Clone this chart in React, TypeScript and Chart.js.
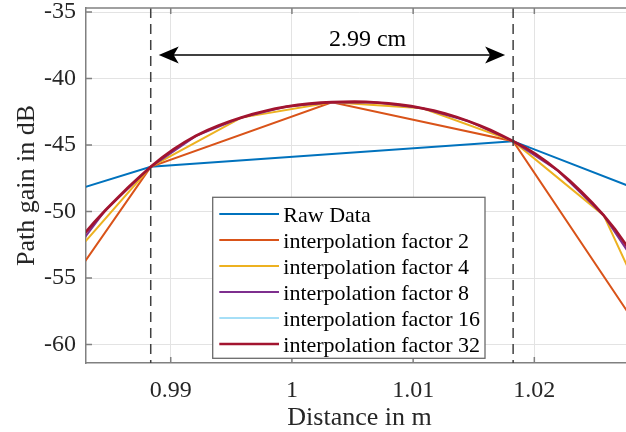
import { useEffect, useRef } from "react";
import { Chart, registerables } from "chart.js";

Chart.register(...registerables);

// Raw samples are 2.99 cm apart; sample 0 sits on the left dashed marker.
const RAW_SPACING = 0.0299;
const SAMPLE_ZERO = 0.98835;

const seriesLabels = [
  "Raw Data",
  "interpolation factor 2",
  "interpolation factor 4",
  "interpolation factor 8",
  "interpolation factor 16",
  "interpolation factor 32",
];
const seriesFactors = [1, 2, 4, 8, 16, 32];
// first sample of each series, in raw-sample spacings from sample 0
const seriesStarts = [-1, -0.5, -0.25, -0.25, -0.25, -0.25];
const seriesColors = ["#0072BD", "#D95319", "#EDB120", "#7E2F8E", "#4DBEEE", "#A2142F"];
const seriesWidths = [2, 2, 2, 2, 1, 2.8];

// path gain in dB
const rawGain = [-55.01, -46.64, -44.71, -55.28];
const factor2Gain = [-66.24, -46.64, -41.78, -44.71, -65.02];
const factor4Gain = [-54.41, -46.64, -42.94, -41.78, -42.24, -44.71, -50.29, -65.02];
const factor8Gain = [
  -54.41, -49.9, -46.64, -44.31, -42.94, -42.11, -41.78, -41.81, -42.24, -43.19, -44.71,
  -46.95, -50.29, -55.37,
];
const factor16Gain = [
  -54.41, -51.81, -49.9, -48.2, -46.64, -45.32, -44.31, -43.53, -42.94, -42.46, -42.11,
  -41.89, -41.78, -41.74, -41.81, -41.96, -42.24, -42.64, -43.19, -43.88, -44.71, -45.68,
  -46.95, -48.49, -50.29, -52.53, -55.37,
];
const factor32Gain = [
  -54.41, -52.95, -51.81, -50.82, -49.9, -49.03, -48.2, -47.4, -46.64, -45.94, -45.32,
  -44.78, -44.31, -43.89, -43.53, -43.21, -42.94, -42.68, -42.46, -42.27, -42.11, -41.99,
  -41.89, -41.82, -41.78, -41.75, -41.74, -41.76, -41.81, -41.87, -41.96, -42.08, -42.24,
  -42.42, -42.64, -42.89, -43.19, -43.51, -43.88, -44.28, -44.71, -45.16, -45.68, -46.29,
  -46.95, -47.69, -48.49, -49.35, -50.29, -51.33, -52.53, -53.86, -55.37,
];
const seriesGains = [rawGain, factor2Gain, factor4Gain, factor8Gain, factor16Gain, factor32Gain];

const xTicks = [0.99, 1, 1.01, 1.02];
const xTickLabels = ["0.99", "1", "1.01", "1.02"];
const yTicks = [-60, -55, -50, -45, -40, -35];
const yTickLabels = ["-60", "-55", "-50", "-45", "-40", "-35"];

const X_MIN = 0.98301;
const X_MAX = 1.02814;
const Y_MIN = -61.384;
const Y_MAX = -34.699;

// marker annotation
const markerLeft = SAMPLE_ZERO;
const markerRight = SAMPLE_ZERO + RAW_SPACING;
const markerText = "2.99 cm";
const markerTextX = 1.00624;
const markerTextY = -37.56;
const markerArrowY = -38.235;

const FONT = '"Liberation Serif", "Times New Roman", serif';
const TEXT = "#262626";
const AXIS = "#808080";

const annotations = {
  id: "annotations",
  afterDatasetsDraw(chart: any) {
    const { ctx, chartArea: a, scales } = chart;
    const x = scales.x;
    const y = scales.y;
    ctx.save();
    ctx.beginPath();
    ctx.rect(a.left, a.top, a.right - a.left, a.bottom - a.top);
    ctx.clip();

    // dashed sample markers
    ctx.strokeStyle = "#404040";
    ctx.lineWidth = 1.5;
    ctx.setLineDash([10, 6]);
    for (const v of [markerLeft, markerRight]) {
      const px = x.getPixelForValue(v);
      ctx.beginPath();
      ctx.moveTo(px, a.top);
      ctx.lineTo(px, a.bottom);
      ctx.stroke();
    }
    ctx.setLineDash([]);

    // double arrow between the markers
    const ay = y.getPixelForValue(markerArrowY);
    const l = x.getPixelForValue(markerLeft) + 8;
    const r = x.getPixelForValue(markerRight) - 8;
    ctx.strokeStyle = "#000";
    ctx.fillStyle = "#000";
    ctx.lineWidth = 1.5;
    ctx.beginPath();
    ctx.moveTo(l + 10, ay);
    ctx.lineTo(r - 10, ay);
    ctx.stroke();
    const head = (tip: number, dir: number) => {
      ctx.beginPath();
      ctx.moveTo(tip, ay);
      ctx.lineTo(tip + dir * 20, ay - 8.5);
      ctx.lineTo(tip + dir * 15, ay);
      ctx.lineTo(tip + dir * 20, ay + 8.5);
      ctx.closePath();
      ctx.fill();
    };
    head(l, 1);
    head(r, -1);

    ctx.font = `24px ${FONT}`;
    ctx.fillStyle = "#000";
    ctx.textAlign = "center";
    ctx.textBaseline = "alphabetic";
    ctx.fillText(markerText, x.getPixelForValue(markerTextX), y.getPixelForValue(markerTextY));
    ctx.restore();
  },
  afterDraw(chart: any) {
    const { ctx, chartArea: a, scales } = chart;
    const x = scales.x;
    const y = scales.y;
    ctx.save();
    ctx.strokeStyle = AXIS;
    ctx.lineWidth = 1.5;
    // top box edge
    ctx.beginPath();
    ctx.moveTo(a.left, a.top);
    ctx.lineTo(a.right, a.top);
    ctx.stroke();
    // inward tick marks
    ctx.beginPath();
    for (const v of yTicks) {
      const py = y.getPixelForValue(v);
      ctx.moveTo(a.left, py);
      ctx.lineTo(a.left + 6, py);
    }
    for (const v of xTicks) {
      const px = x.getPixelForValue(v);
      ctx.moveTo(px, a.bottom);
      ctx.lineTo(px, a.bottom - 6);
      ctx.moveTo(px, a.top);
      ctx.lineTo(px, a.top + 6);
    }
    ctx.stroke();

    // legend box
    const bx = a.left + 126.7;
    const by = a.top + 189.3;
    const bw = 272.3;
    const bh = 161;
    ctx.fillStyle = "#fff";
    ctx.fillRect(bx, by, bw, bh);
    ctx.strokeStyle = "#6a6a6a";
    ctx.lineWidth = 1.3;
    ctx.strokeRect(bx, by, bw, bh);
    ctx.font = `22px ${FONT}`;
    ctx.textAlign = "left";
    ctx.textBaseline = "alphabetic";
    chart.data.datasets.forEach((ds: any, i: number) => {
      const base = by + 24.4 + i * 26;
      const ly = base - 7.7;
      ctx.strokeStyle = ds.borderColor;
      ctx.lineWidth = Math.min(ds.borderWidth, 2.4);
      ctx.beginPath();
      ctx.moveTo(bx + 6.6, ly);
      ctx.lineTo(bx + 66.3, ly);
      ctx.stroke();
      ctx.fillStyle = "#000";
      ctx.fillText(ds.label, bx + 70.6, base);
    });
    ctx.restore();
  },
};

export default function App() {
  const canvasRef = useRef<HTMLCanvasElement | null>(null);

  useEffect(() => {
    const canvas = canvasRef.current;
    if (!canvas) return;
    const datasets = seriesLabels.map((label, s) => ({
      label,
      data: seriesGains[s].map((g, i) => ({
        x: SAMPLE_ZERO + (seriesStarts[s] + i / seriesFactors[s]) * RAW_SPACING,
        y: g,
      })),
      borderColor: seriesColors[s],
      backgroundColor: seriesColors[s],
      borderWidth: seriesWidths[s],
      pointRadius: 0,
      tension: 0,
      fill: false,
      clip: 0,
      order: seriesLabels.length - s,
    }));

    const chart = new Chart(canvas, {
      type: "line",
      data: { datasets },
      options: {
        responsive: false,
        animation: false,
        devicePixelRatio: 1,
        layout: { padding: { top: 8, right: 7, left: 0, bottom: 0 } },
        plugins: { legend: { display: false }, tooltip: { enabled: false } },
        scales: {
          x: {
            type: "linear",
            min: X_MIN,
            max: X_MAX,
            afterBuildTicks: (s: any) => {
              s.ticks = xTicks.map((v) => ({ value: v }));
            },
            afterFit: (s: any) => {
              s.height = 69;
              s.paddingLeft = 0;
              s.paddingRight = 0;
            },
            ticks: {
              callback: (v: any) => xTickLabels[xTicks.indexOf(Number(v))] ?? "",
              color: TEXT,
              padding: 13,
              maxRotation: 0,
              autoSkip: false,
              font: { family: FONT, size: 24 },
            },
            grid: { color: "#e3e3e3", lineWidth: 1, drawTicks: false },
            border: { display: true, color: AXIS, width: 1.5 },
            title: {
              display: true,
              text: "Distance in m",
              color: TEXT,
              font: { family: FONT, size: 26, lineHeight: 1 },
              padding: { top: 0, bottom: 1 },
            },
          },
          y: {
            type: "linear",
            min: Y_MIN,
            max: Y_MAX,
            afterBuildTicks: (s: any) => {
              s.ticks = yTicks.map((v) => ({ value: v }));
            },
            afterFit: (s: any) => {
              s.width = 86;
              s.paddingTop = 0;
              s.paddingBottom = 0;
            },
            ticks: {
              callback: (v: any) => yTickLabels[yTicks.indexOf(Number(v))] ?? "",
              color: TEXT,
              padding: 10,
              autoSkip: false,
              font: { family: FONT, size: 24 },
            },
            grid: { color: "#e3e3e3", lineWidth: 1, drawTicks: false },
            border: { display: true, color: AXIS, width: 1.5 },
            title: {
              display: true,
              text: "Path gain in dB",
              color: TEXT,
              font: { family: FONT, size: 26, lineHeight: 1 },
              padding: { top: 14, bottom: 0 },
            },
          },
        },
      },
      plugins: [annotations],
    });
    return () => chart.destroy();
  }, []);

  return (
    <div
      style={{
        position: "absolute",
        left: 0,
        top: 0,
        width: 626,
        height: 432,
        overflow: "hidden",
        background: "#fff",
      }}
    >
      <canvas ref={canvasRef} width={640} height={432} style={{ display: "block" }} />
    </div>
  );
}
